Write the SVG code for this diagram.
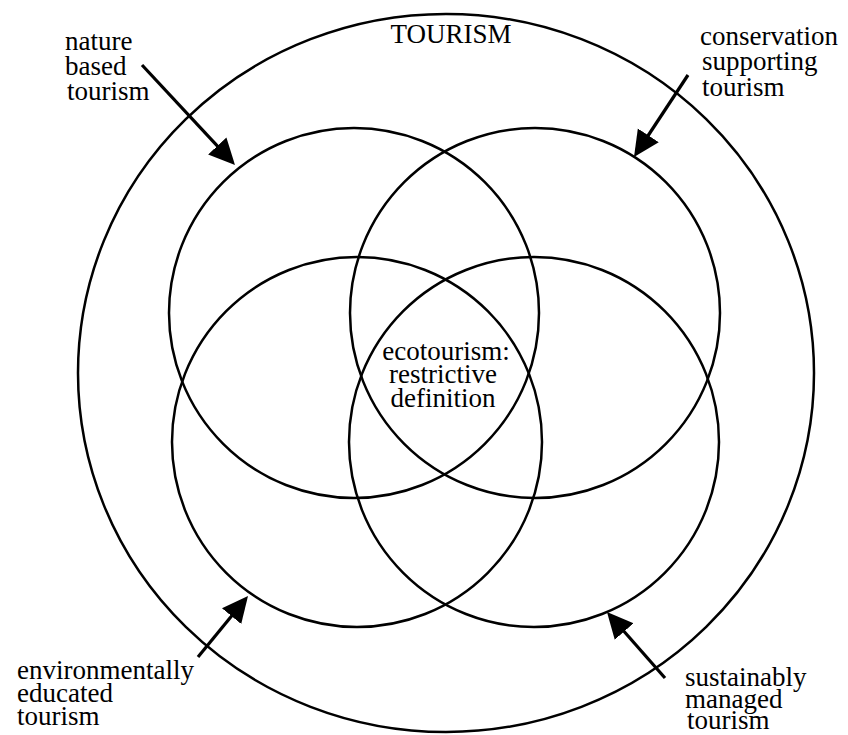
<svg xmlns="http://www.w3.org/2000/svg" width="848" height="735" viewBox="0 0 848 735">
  <style>
    .ring { fill: none; stroke: #000; stroke-width: 2.5; }
    .lbl { font-family: "Liberation Serif", "Times New Roman", serif; font-size: 27px; fill: #000; }
    .arr { stroke: #000; stroke-width: 3.2; fill: none; marker-end: url(#ah); }
  </style>
  <defs>
    <marker id="ah" viewBox="0 0 26 26" markerWidth="26" markerHeight="26" markerUnits="userSpaceOnUse" refX="14" refY="13" orient="auto">
      <path d="M0,0.5 L26,13 L0,25.5 z" fill="#000"/>
    </marker>
  </defs>
  <rect width="848" height="735" fill="#fff"/>

  <g id="tourism">
    <ellipse class="ring" cx="446" cy="373" rx="368" ry="359"/>
    <text class="lbl" x="451" y="43" text-anchor="middle">TOURISM</text>
  </g>
  <g id="nature-based">
    <circle class="ring" cx="354" cy="313" r="185"/>
  </g>
  <g id="conservation-supporting">
    <circle class="ring" cx="535" cy="313" r="185"/>
  </g>
  <g id="environmentally-educated">
    <circle class="ring" cx="357" cy="442" r="185"/>
  </g>
  <g id="sustainably-managed">
    <circle class="ring" cx="534" cy="442" r="185"/>
  </g>
  <g id="ecotourism">
    <text class="lbl" text-anchor="middle"><tspan x="446" y="360">ecotourism:</tspan><tspan x="443" y="383">restrictive</tspan><tspan x="443" y="407">definition</tspan></text>
  </g>

  <g id="label-nature">
    <text class="lbl"><tspan x="65" y="50">nature</tspan><tspan x="65" y="75">based</tspan><tspan x="67" y="100">tourism</tspan></text>
  </g>
  <g id="label-conservation">
    <text class="lbl"><tspan x="700" y="45">conservation</tspan><tspan x="702" y="70">supporting</tspan><tspan x="702" y="96">tourism</tspan></text>
  </g>
  <g id="label-environmentally">
    <text class="lbl"><tspan x="17" y="679">environmentally</tspan><tspan x="17" y="702">educated</tspan><tspan x="17" y="725">tourism</tspan></text>
  </g>
  <g id="label-sustainably">
    <text class="lbl"><tspan x="685" y="686">sustainably</tspan><tspan x="685" y="708">managed</tspan><tspan x="687" y="729">tourism</tspan></text>
  </g>

  <g id="connectors">
    <line class="arr" x1="142" y1="65" x2="226.8" y2="156.2"/>
    <line class="arr" x1="688" y1="75" x2="640.6" y2="147"/>
    <line class="arr" x1="198" y1="657" x2="240.4" y2="605.3"/>
    <line class="arr" x1="665" y1="678" x2="614.9" y2="621"/>
  </g>
</svg>
